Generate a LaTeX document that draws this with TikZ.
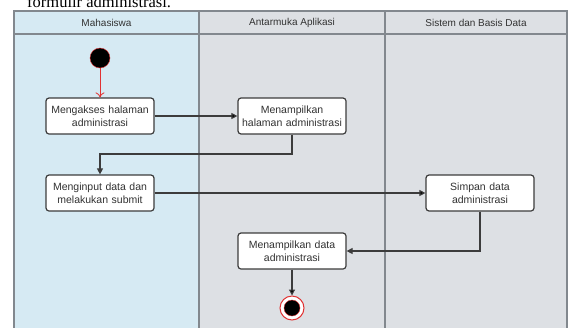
\documentclass[tikz,border=0pt]{standalone}
\usepackage{fontspec}
\setmainfont{Liberation Sans}
\newfontfamily\capfont{Liberation Serif}
\usetikzlibrary{positioning, arrows.meta}

\definecolor{laneblue}{RGB}{214,234,243}
\definecolor{lanegray}{RGB}{221,224,228}
\definecolor{laneline}{RGB}{130,136,142}
\definecolor{boxline}{RGB}{60,60,60}
\definecolor{labeltext}{RGB}{50,50,50}
\definecolor{startred}{RGB}{225,50,50}

\begin{document}
\begin{tikzpicture}[x=1pt, y=-1pt, font=\fontsize{10.5}{13}\selectfont]
    \tikzstyle{act}=[rectangle, rounded corners=3pt, draw=boxline, line width=1.2pt, fill=white, minimum width=108pt, minimum height=36pt, text width=104pt, align=center, inner sep=0, text=labeltext]
    \tikzstyle{flow}=[-{Triangle[length=6pt,width=6pt]}, draw=boxline, line width=1.1pt]
    \tikzstyle{lane}=[draw=laneline, line width=1.3pt]
    \tikzstyle{lane head}=[text=labeltext, font=\fontsize{10}{12}\selectfont]

    \useasboundingbox (0,0) rectangle (569,327);

    % cut caption line above the figure
    \node[anchor=base west, inner sep=0, font=\capfont\fontsize{16.5}{18}\selectfont] (cap) at (27,7.5) {formulir administrasi.};

    % swimlanes
    \fill[laneblue] (14,11) rectangle (199,330);
    \fill[lanegray] (199,11) rectangle (567,330);
    \draw[lane] (14,330) -- (14,11) -- (567,11) -- (567,330);
    \draw[lane] (14,34) -- (567,34);
    \draw[lane] (199,11) -- (199,330);
    \draw[lane] (385,11) -- (385,330);
    \node[lane head] (mhs) at (106.5,22.5) {Mahasiswa};
    \node[lane head] (app) at (292,22.5) {Antarmuka Aplikasi};
    \node[lane head] (db) at (476,22.5) {Sistem dan Basis Data};

    % activities
    \node[circle, fill=black, draw=startred, minimum size=20pt, inner sep=0] (start) at (100,58) {};
    \node[act] (akses) at (100,116) {Mengakses halaman\\administrasi};
    \node[act] (tampil) at (292,116) {Menampilkan\\halaman administrasi};
    \node[act] (input) at (100,193) {Menginput data dan\\melakukan submit};
    \node[act] (simpan) at (480,193) {Simpan data\\administrasi};
    \node[act] (hasil) at (292,251) {Menampilkan data\\administrasi};
    \node[circle, draw=startred, fill=white, line width=1pt, minimum size=24pt, inner sep=0] (stop) at (292,308) {};
    \node[circle, fill=black, draw=startred, minimum size=16pt, inner sep=0] (stopdot) at (stop) {};

    \coordinate (turn) at (100,154);

    \path[-{To[length=5pt,width=9pt]}, draw=startred, line width=0.8pt] (start) edge (akses);
    \path[flow] (akses) edge (tampil);
    \draw[flow] (tampil.south) |- (turn) -- (input.north);
    \path[flow] (input) edge (simpan);
    \draw[flow] (simpan.south) |- (hasil.east);
    \path[flow] (hasil) edge (stop);
\end{tikzpicture}
\end{document}
